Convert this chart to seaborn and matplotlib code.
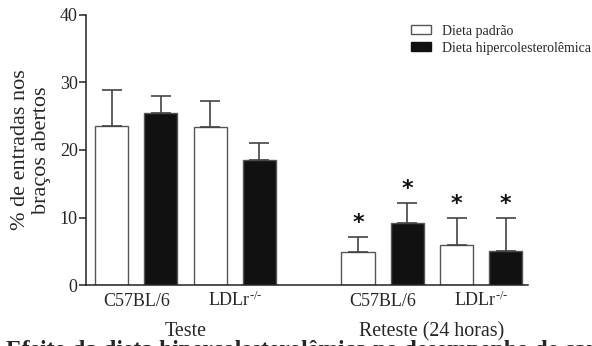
import pandas as pd
import numpy as np
import matplotlib
matplotlib.use("Agg")
import matplotlib.pyplot as plt
import matplotlib.patches as mpatches
import matplotlib.transforms as mtransforms
import seaborn as sns

sns.set_style("ticks")
plt.rcParams['font.family'] = ['Liberation Serif', 'DejaVu Serif']
plt.rcParams['mathtext.fontset'] = 'custom'
plt.rcParams['mathtext.rm'] = 'Liberation Serif'
plt.rcParams['mathtext.it'] = 'Liberation Serif:italic'

# values
phases = ["Teste"] * 4 + ["Reteste (24 horas)"] * 4
strains = ["C57BL/6", "C57BL/6", "LDLr", "LDLr"] * 2
diets = ["Dieta padrão", "Dieta hipercolesterolêmica"] * 4
means = [23.5, 25.5, 23.4, 18.55, 4.9, 9.25, 5.95, 5.0]
sems = [5.4, 2.5, 3.9, 2.55, 2.3, 2.95, 4.05, 5.0]
signif = [False, False, False, False, True, True, True, True]
strain_labels = ["C57BL/6", r"LDLr$^{\text{-/-}}$", "C57BL/6", r"LDLr$^{\text{-/-}}$"]
phase_labels = ["Teste", "Reteste (24 horas)"]

df = pd.DataFrame({"phase": phases, "strain": strains, "diet": diets,
                   "mean": means, "sem": sems, "sig": signif})
df["bar"] = df["phase"] + "|" + df["strain"] + "|" + df["diet"]
order = list(df["bar"][:4]) + ["gap"] + list(df["bar"][4:])

pal = {"Dieta padrão": "white", "Dieta hipercolesterolêmica": "#111111"}

fig = plt.figure(figsize=(5.92, 3.46), dpi=100)
ax = fig.add_axes([86 / 592, 60.7 / 346, 442 / 592, 270.6 / 346])

sns.barplot(data=df, x="bar", y="mean", hue="diet", order=order,
            hue_order=list(pal), palette=pal, dodge=False, width=0.67,
            errorbar=None, edgecolor="#555555", linewidth=1.0,
            legend=False, ax=ax)

# upward-only error bars and significance stars
xpos = [order.index(b) for b in df["bar"]]
ax.errorbar(xpos, df["mean"], yerr=[np.zeros(len(df)), df["sem"]],
            fmt="none", ecolor="#444444", elinewidth=1.2, capsize=7,
            capthick=1.2, zorder=1)
for x, m, s, sg in zip(xpos, df["mean"], df["sem"], df["sig"]):
    if sg:
        ax.text(x, m + s + 0.5, "*", ha="center", va="bottom",
                fontsize=16, fontweight="bold", fontfamily="DejaVu Sans",
                color="#111111")

ax.set_ylim(0, 40)
ax.set_xlim(-0.52, 8.45)
ax.set_yticks([0, 10, 20, 30, 40])
ax.set_xticks([0.5, 2.5, 5.5, 7.5])
ax.set_xticklabels(strain_labels, va="baseline")
ax.tick_params(axis="x", length=0, labelsize=13, pad=15)
ax.tick_params(axis="y", length=5, width=1.1, labelsize=13, pad=1,
               color="#222222")
ax.set_xlabel("")
ax.set_ylabel("% de entradas nos\nbraços abertos", fontsize=16,
              linespacing=1.15, labelpad=6)
sns.despine(ax=ax)
for sp in ["left", "bottom"]:
    ax.spines[sp].set_linewidth(1.1)
    ax.spines[sp].set_color("#222222")

trans = mtransforms.blended_transform_factory(ax.transData, ax.transAxes)
for xc, lab in zip([1.5, 6.5], phase_labels):
    ax.text(xc, -0.172, lab, transform=trans, ha="center", va="center",
            fontsize=14.4)

handles = [mpatches.Patch(facecolor="white", edgecolor="#555555", label=diets[0]),
           mpatches.Patch(facecolor="#111111", edgecolor="#111111", label=diets[1])]
fig.legend(handles=handles, loc="upper left",
           bbox_to_anchor=(405 / 592, 1 - 19 / 346), frameon=False,
           fontsize=10, handlelength=1.5, handleheight=0.65,
           handletextpad=0.8, labelspacing=0.3, borderaxespad=0)

fig.text(0.01, 0.018, "Efeito da dieta hipercolesterolêmica no desempenho de camundongos",
         ha="left", va="top", fontsize=17, fontweight="bold")

fig.savefig("out.png", dpi=100)
